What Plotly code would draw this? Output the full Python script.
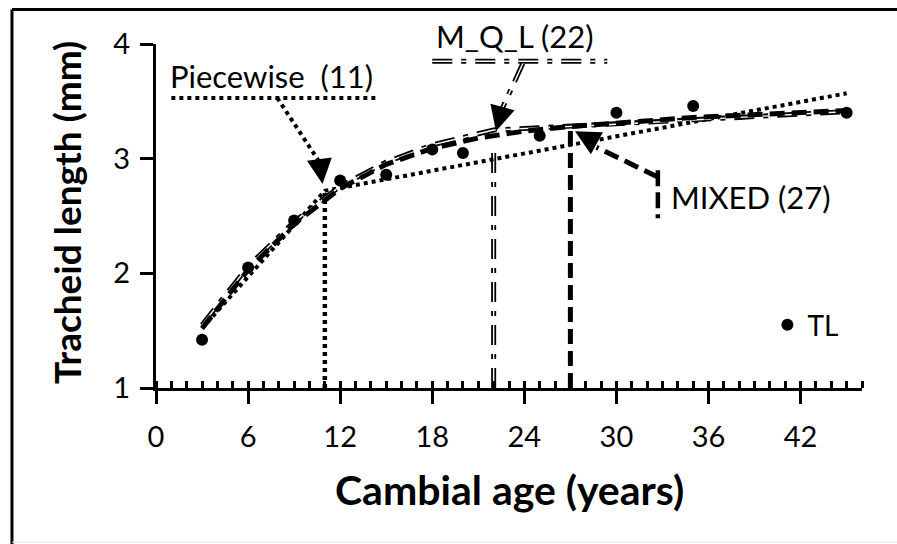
import plotly.graph_objects as go

# measured tracheid length
ages = [3, 6, 9, 12, 15, 18, 20, 25, 30, 35, 45]
tl = [1.42, 2.05, 2.46, 2.81, 2.86, 3.08, 3.05, 3.20, 3.40, 3.46, 3.40]

# fitted models
pw_x = [3, 11, 45]
pw_y = [1.52, 2.72, 3.57]
mql_x = [3, 6, 9, 12, 15, 18, 22, 30, 38, 45]
mql_y = [1.55, 2.06, 2.45, 2.76, 2.97, 3.12, 3.25, 3.30, 3.36, 3.41]
mix_x = [3, 6, 9, 12, 15, 18, 21, 24, 27, 30, 35, 40, 45]
mix_y = [1.52, 2.03, 2.43, 2.74, 2.95, 3.09, 3.18, 3.24, 3.28, 3.31, 3.36, 3.39, 3.42]

# breakpoints of each model
labels = ["Piecewise\u00a0 (11)", "M_Q_L (22)", "MIXED (27)"]
breaks = [11, 22, 27]
break_tops = [2.70, 3.05, 3.26]

x_ticks = [0, 6, 12, 18, 24, 30, 36, 42]
y_ticks = [1, 2, 3, 4]

FONT = "Lato, 'Open Sans', sans-serif"
DOT = "4px,4px"
DASH = "15px,7px"
DASHDOT = "20px,9px,5px,9px"

fig = go.Figure()


def add_line(x, y, dash, width, double=False):
    fig.add_trace(go.Scatter(x=x, y=y, mode="lines", showlegend=False, hoverinfo="skip",
                             line=dict(color="black", width=width, dash=dash)))
    if double:
        fig.add_trace(go.Scatter(x=x, y=y, mode="lines", showlegend=False, hoverinfo="skip",
                                 line=dict(color="white", width=1.4, dash=dash)))


# vertical lines at breakpoints
add_line([breaks[0], breaks[0]], [1, break_tops[0]], DOT, 4.5)
add_line([breaks[1], breaks[1]], [1, break_tops[1]], DASHDOT, 5, double=True)
add_line([breaks[2], breaks[2]], [1, break_tops[2]], DASH, 5)

# model curves
add_line(pw_x, pw_y, DOT, 4)
add_line(mql_x, mql_y, DASHDOT, 5, double=True)
add_line(mix_x, mix_y, DASH, 5)

fig.add_trace(go.Scatter(x=ages, y=tl, mode="markers", name="TL",
                         marker=dict(color="black", size=12)))


def seg(x0, y0, x1, y1, dash, width, color="black"):
    fig.add_shape(type="line", xref="x", yref="y", x0=x0, y0=y0, x1=x1, y1=y1,
                  line=dict(color=color, width=width, dash=dash))


# callouts
seg(1.0, 3.53, 14.5, 3.53, DOT, 4)
seg(7.9, 3.53, 10.75, 2.95, DOT, 4)

seg(18.0, 3.85, 29.4, 3.85, DASHDOT, 5)
seg(18.0, 3.85, 29.4, 3.85, DASHDOT, 1.4, "white")
seg(23.9, 3.83, 22.5, 3.42, DASHDOT, 5)
seg(23.9, 3.83, 22.5, 3.42, DASHDOT, 1.4, "white")

seg(32.7, 2.90, 32.7, 2.48, "16px,6px", 4.5)
seg(32.7, 2.84, 28.7, 3.10, DASH, 5)

tips = [(10.85, 2.78, -3, -24), (22.15, 3.24, 6, -22), (27.3, 3.24, 20, 11)]
for tx, ty, ax, ay in tips:
    fig.add_annotation(x=tx, y=ty, ax=ax, ay=ay, text="", showarrow=True,
                       arrowhead=2, arrowsize=2, arrowwidth=2.5, arrowcolor="black")

fig.add_annotation(x=0.75, y=3.72, text=labels[0], showarrow=False, xanchor="left",
                   yanchor="middle", font=dict(size=31))
fig.add_annotation(x=18.1, xref="x", y=1.023, yref="paper", text=labels[1], showarrow=False,
                   xanchor="left", yanchor="middle", font=dict(size=31))
fig.add_annotation(x=33.4, y=2.67, text=labels[2], showarrow=False, xanchor="left",
                   yanchor="middle", font=dict(size=31))

# axis titles
fig.add_annotation(xref="paper", yref="paper", x=0.5, y=-0.296, text="<b>Cambial age (years)</b>",
                   showarrow=False, xanchor="center", yanchor="middle", font=dict(size=41))
fig.add_annotation(xref="paper", yref="paper", x=-0.127, y=0.51, text="<b>Tracheid length (mm)</b>",
                   showarrow=False, textangle=-90, xanchor="center", yanchor="middle",
                   font=dict(size=37))

# outer frame
fig.add_shape(type="line", xref="paper", yref="paper", x0=-0.204, y0=1.1, x1=-0.204, y1=-0.6,
              line=dict(color="black", width=3))
fig.add_shape(type="line", xref="paper", yref="paper", x0=-0.204, y0=1.1, x1=1.1, y1=1.1,
              line=dict(color="black", width=3))
fig.add_shape(type="line", xref="paper", yref="paper", x0=-0.204, y0=-0.448, x1=1.1, y1=-0.448,
              line=dict(color="#e8e8e8", width=1))

fig.update_xaxes(range=[0, 46], tickvals=x_ticks, showgrid=False, zeroline=False,
                 showline=True, linecolor="black", linewidth=3,
                 ticks="outside", ticklen=13, tickwidth=3, tickcolor="black",
                 ticklabelstandoff=8, tickfont=dict(size=29),
                 minor=dict(dtick=1, ticks="inside", ticklen=7, tickwidth=3, tickcolor="black"))
fig.update_yaxes(range=[1, 4], tickvals=y_ticks, showgrid=False, zeroline=False,
                 showline=True, linecolor="black", linewidth=3,
                 ticks="outside", ticklen=13, tickwidth=3, tickcolor="black",
                 ticklabelstandoff=4, tickfont=dict(size=29))

fig.update_layout(
    width=897, height=544,
    margin=dict(l=156, r=35, t=44, b=156),
    paper_bgcolor="white", plot_bgcolor="white",
    font=dict(family=FONT, color="black"),
    showlegend=True,
    legend=dict(x=0.866, y=0.183, xanchor="left", yanchor="middle",
                bgcolor="rgba(0,0,0,0)", font=dict(size=28), itemsizing="trace"),
)

# drop the default page margin / scrollbars so the figure fills the window exactly
fig.write_html("out.html", config={"displayModeBar": False},
               post_script="document.documentElement.style.overflow='hidden';"
                           "document.body.style.margin='0';document.body.style.overflow='hidden';")
